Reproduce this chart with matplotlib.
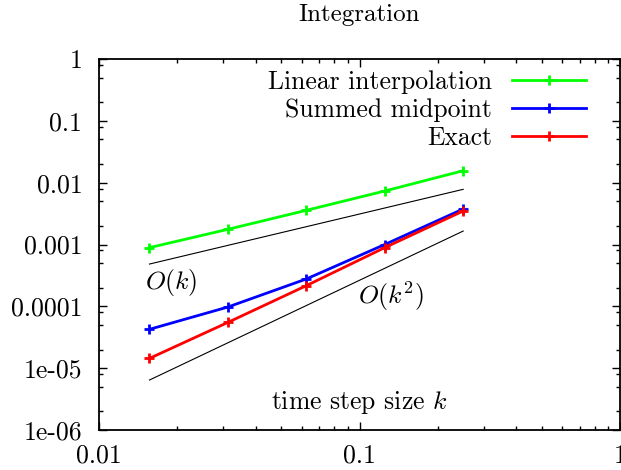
import matplotlib
matplotlib.use("Agg")
import matplotlib.pyplot as plt
from matplotlib.ticker import FixedLocator, FixedFormatter, LogLocator, NullFormatter

# step sizes and errors
k = [0.015625, 0.03125, 0.0625, 0.125, 0.25]
linear_err = [8.9e-4, 1.76e-3, 3.57e-3, 7.33e-3, 1.56e-2]
midpoint_err = [4.25e-5, 9.75e-5, 2.77e-4, 1.0e-3, 3.75e-3]
exact_err = [1.44e-5, 5.5e-5, 2.16e-4, 8.9e-4, 3.48e-3]

# reference slopes drawn between first and last k
k_ref = [0.015625, 0.25]
order1 = [4.83e-4, 7.8e-3]
order2 = [6.43e-6, 1.65e-3]

xticks = [0.01, 0.1, 1]
xticklabels = ["0.01", "0.1", "1"]
yticks = [1e-6, 1e-5, 1e-4, 1e-3, 1e-2, 1e-1, 1]
yticklabels = ["1e-06", "1e-05", "0.0001", "0.001", "0.01", "0.1", "1"]

plt.rcParams["font.family"] = "cmr10"
plt.rcParams["mathtext.fontset"] = "cm"
plt.rcParams["axes.formatter.use_mathtext"] = True
plt.rcParams["font.size"] = 18.5

fig = plt.figure(figsize=(6.21, 4.70), dpi=100)
ax = fig.add_axes([99 / 621, 1 - 430 / 470, 521 / 621, 371 / 470])

ax.plot(k_ref, order1, color="black", lw=0.8)
ax.plot(k_ref, order2, color="black", lw=0.8)

ax.plot(k, linear_err, color="#00ff00", lw=2, marker="+", ms=7, mew=2,
        label="Linear interpolation")
ax.plot(k, midpoint_err, color="#0000ff", lw=2, marker="+", ms=7, mew=2,
        label="Summed midpoint")
ax.plot(k, exact_err, color="#ff0000", lw=2, marker="+", ms=7, mew=2,
        label="Exact")

ax.set_xscale("log")
ax.set_yscale("log")
ax.set_xlim(0.01, 1)
ax.set_ylim(1e-6, 1)

ax.xaxis.set_major_locator(FixedLocator(xticks))
ax.xaxis.set_major_formatter(FixedFormatter(xticklabels))
ax.yaxis.set_major_locator(FixedLocator(yticks))
ax.yaxis.set_major_formatter(FixedFormatter(yticklabels))
ax.xaxis.set_minor_locator(LogLocator(base=10, subs=range(2, 10)))
ax.yaxis.set_minor_locator(LogLocator(base=10, subs=[2, 5, 8]))
ax.xaxis.set_minor_formatter(NullFormatter())
ax.yaxis.set_minor_formatter(NullFormatter())

ax.tick_params(which="both", direction="in", top=True, right=True, width=1)
ax.tick_params(which="major", length=5.5)
ax.tick_params(which="minor", length=2.7)
ax.tick_params(axis="x", which="major", pad=10)
ax.tick_params(axis="y", which="major", pad=12)
for s in ax.spines.values():
    s.set_linewidth(1.3)

ax.set_title("Integration", pad=27, fontsize=18)

ax.text(0.5, 0.073, "time step size $k$", transform=ax.transAxes,
        ha="center", va="center")
ax.text(0.0189, 2.47e-4, "$O(k)$", ha="center", va="center")
ax.text(0.1324, 1.43e-4, "$O(k^2)$", ha="center", va="center")

ax.legend(loc="upper right", bbox_to_anchor=(0.935, 0.97), markerfirst=False,
          frameon=False, handlelength=2.9, handletextpad=0.75, labelspacing=0.17,
          borderpad=0, borderaxespad=0, numpoints=1)

plt.savefig("out.png", dpi=100)
